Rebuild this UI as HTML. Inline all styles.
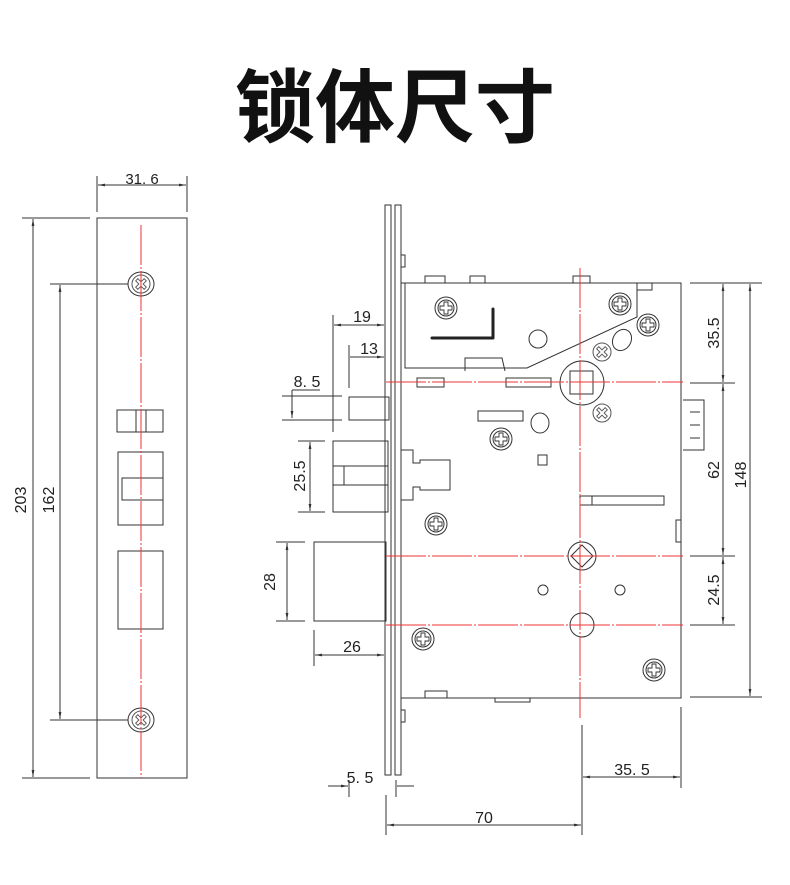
<!DOCTYPE html>
<html><head><meta charset="utf-8"><style>
html,body{margin:0;padding:0;background:#fff;}
svg{display:block;}
text{font-family:"Liberation Sans","Noto Sans CJK SC",sans-serif;fill:#222;}
</style></head><body>
<svg width="790" height="885" viewBox="0 0 790 885" xmlns="http://www.w3.org/2000/svg">
<defs>
<marker id="a" viewBox="0 0 10 10" refX="10" refY="5" markerWidth="7" markerHeight="7" orient="auto-start-reverse"><path d="M0,3 L10,5 L0,7 z" fill="#333"/></marker>
<g id="scr"><circle r="11" fill="#fff" stroke="#333"/><circle r="8" fill="none" stroke="#333"/><path d="M-2,-6h4v4h4v4h-4v4h-4v-4h-4v-4h4z" fill="none" stroke="#333" stroke-width="0.9"/></g>
<g id="ph"><circle r="9" fill="#fff" stroke="#555"/><path d="M-1.5,-6h3v4.5h4.5v3h-4.5v4.5h-3v-4.5h-4.5v-3h4.5z" fill="none" stroke="#555" stroke-width="0.9" transform="rotate(45)"/></g>
</defs>
<text x="395" y="136" font-size="80" font-weight="bold" text-anchor="middle" style="fill:#111">锁体尺寸</text>

<g stroke="#333" stroke-width="1" fill="none">
<rect x="97" y="218" width="90" height="560"/>
<line x1="97" y1="176" x2="97" y2="212"/><line x1="187" y1="176" x2="187" y2="212"/>
<line x1="98" y1="185" x2="186" y2="185" marker-start="url(#a)" marker-end="url(#a)"/>
<line x1="22" y1="218" x2="90" y2="218"/><line x1="22" y1="778" x2="90" y2="778"/>
<line x1="33" y1="219" x2="33" y2="777" marker-start="url(#a)" marker-end="url(#a)"/>
<line x1="50" y1="284" x2="128" y2="284"/><line x1="50" y1="720" x2="128" y2="720"/>
<line x1="60" y1="285" x2="60" y2="719" marker-start="url(#a)" marker-end="url(#a)"/>
<rect x="117" y="410" width="46" height="22"/><line x1="136" y1="410" x2="136" y2="432"/><line x1="146" y1="410" x2="146" y2="432"/>
<rect x="118" y="452" width="45" height="73"/><rect x="122" y="478" width="41" height="22"/>
<rect x="118" y="551" width="45" height="78"/>
</g>
<g stroke="#333" stroke-width="1" fill="#fff">
<ellipse cx="141" cy="284" rx="13" ry="12"/><ellipse cx="141" cy="720" rx="13" ry="12"/>
</g>
<use href="#ph" x="141" y="284" transform="translate(0,0)"/>
<use href="#ph" x="141" y="720"/>
<line x1="141" y1="225" x2="141" y2="778" stroke="#e33" stroke-width="1" stroke-dasharray="40,2,2,2"/>
<text x="142" y="184" font-size="15" text-anchor="middle">31. 6</text>
<text transform="translate(26,500) rotate(-90)" font-size="16" text-anchor="middle">203</text>
<text transform="translate(54,500) rotate(-90)" font-size="16" text-anchor="middle">162</text>

<g stroke="#333" stroke-width="1" fill="none">
<rect x="385" y="205" width="6" height="570"/>
<rect x="395" y="205" width="6" height="570"/>
<path d="M401,283 H681 V698 H401"/>
<path d="M405,283 V368 H527 L637,317 V283"/>
<path d="M637,283 V290 H652 V283"/>
<rect x="417" y="378" width="27" height="9"/><rect x="506" y="378" width="45" height="9"/>
<rect x="478" y="411" width="45" height="10"/><rect x="538" y="455" width="9" height="10"/>
<path d="M465,371 V358 H502 L505,371"/>
<circle cx="582" cy="383" r="22"/><rect x="570" y="371" width="23" height="23"/>
<circle cx="538" cy="339" r="9"/><ellipse cx="540" cy="423" rx="9" ry="10"/>
<ellipse cx="622" cy="340" rx="9" ry="11" transform="rotate(30 622 340)"/>
<circle cx="582" cy="556" r="14"/><path d="M582,545 L593,556 L582,567 L571,556 z"/>
<circle cx="543" cy="590" r="5"/><circle cx="620" cy="590" r="5"/>
<circle cx="582" cy="625" r="12"/>
<rect x="580" y="496" width="84" height="9"/><line x1="592" y1="496" x2="592" y2="505"/>
<path d="M683,400 H704 V450 H683"/><line x1="690" y1="412" x2="700" y2="412"/><line x1="690" y1="425" x2="700" y2="425"/><line x1="690" y1="438" x2="700" y2="438"/>
<rect x="676" y="520" width="5" height="22"/>
<path d="M401,450 H413 V463 H420 V460 H450 V490 H420 V487 H413 V500 H401"/>
<rect x="333" y="441" width="55" height="71"/><rect x="333" y="466" width="55" height="19"/><line x1="344" y1="466" x2="344" y2="485"/>
<rect x="349" y="397" width="40" height="23"/>
<rect x="314" y="542" width="72" height="79"/>
<path d="M425,283 V276 H445 V283"/><path d="M470,283 V276 H485 V283"/><path d="M573,283 V276 H590 V283"/>
<path d="M425,698 V691 H447 V698"/><path d="M495,698 V702 H530 V698"/>
<rect x="401" y="255" width="4" height="12"/><rect x="401" y="710" width="4" height="12"/>
<line x1="333" y1="315" x2="333" y2="432"/><line x1="334" y1="325" x2="384" y2="325" marker-start="url(#a)" marker-end="url(#a)"/>
<line x1="349" y1="345" x2="349" y2="388"/><line x1="350" y1="357" x2="384" y2="357" marker-end="url(#a)"/>
<line x1="282" y1="396" x2="342" y2="396"/><line x1="282" y1="420" x2="342" y2="420"/>
<line x1="292" y1="390" x2="292" y2="418" marker-end="url(#a)"/><line x1="292" y1="390" x2="320" y2="390"/>
<line x1="298" y1="441" x2="325" y2="441"/><line x1="298" y1="512" x2="325" y2="512"/>
<line x1="310" y1="442" x2="310" y2="511" marker-start="url(#a)" marker-end="url(#a)"/>
<line x1="276" y1="542" x2="305" y2="542"/><line x1="276" y1="621" x2="305" y2="621"/>
<line x1="287" y1="543" x2="287" y2="620" marker-start="url(#a)" marker-end="url(#a)"/>
<line x1="314" y1="630" x2="314" y2="666"/><line x1="315" y1="655" x2="384" y2="655" marker-start="url(#a)" marker-end="url(#a)"/>
<line x1="349" y1="780" x2="349" y2="797"/><line x1="396" y1="780" x2="396" y2="797"/>
<line x1="328" y1="786" x2="348" y2="786" marker-end="url(#a)"/><line x1="397" y1="786" x2="414" y2="786"/>
<line x1="386" y1="795" x2="386" y2="835"/><line x1="582" y1="725" x2="582" y2="835"/>
<line x1="387" y1="825" x2="581" y2="825" marker-start="url(#a)" marker-end="url(#a)"/>
<line x1="681" y1="707" x2="681" y2="788"/><line x1="583" y1="777" x2="680" y2="777" marker-start="url(#a)" marker-end="url(#a)"/>
<line x1="690" y1="283" x2="762" y2="283"/><line x1="690" y1="383" x2="735" y2="383"/><line x1="690" y1="556" x2="735" y2="556"/><line x1="690" y1="625" x2="735" y2="625"/><line x1="690" y1="697" x2="762" y2="697"/>
<line x1="723" y1="284" x2="723" y2="382" marker-start="url(#a)" marker-end="url(#a)"/>
<line x1="723" y1="384" x2="723" y2="555" marker-start="url(#a)" marker-end="url(#a)"/>
<line x1="723" y1="557" x2="723" y2="624" marker-start="url(#a)" marker-end="url(#a)"/>
<line x1="750" y1="284" x2="750" y2="696" marker-start="url(#a)" marker-end="url(#a)"/>
</g>
<path d="M432,338 H493 V309" fill="none" stroke="#222" stroke-width="3" stroke-linejoin="round" stroke-linecap="round"/>
<use href="#scr" x="446" y="308"/><use href="#scr" x="620" y="304"/><use href="#scr" x="648" y="325"/>
<use href="#scr" x="501" y="439"/><use href="#scr" x="436" y="524"/><use href="#scr" x="423" y="639"/><use href="#scr" x="654" y="670"/>
<use href="#ph" x="602" y="352"/><use href="#ph" x="602" y="413"/>
<g stroke="#e33" stroke-width="1" stroke-dasharray="40,2,2,2" fill="none">
<line x1="580" y1="268" x2="580" y2="718"/>
<line x1="386" y1="382" x2="683" y2="382"/>
<line x1="386" y1="556" x2="683" y2="556"/>
<line x1="386" y1="625" x2="683" y2="625"/>
</g>
<g font-size="16">
<text x="362" y="322" text-anchor="middle">19</text>
<text x="369" y="354" text-anchor="middle">13</text>
<text x="307" y="387" text-anchor="middle">8. 5</text>
<text transform="translate(305,476) rotate(-90)" text-anchor="middle">25.5</text>
<text transform="translate(275,582) rotate(-90)" text-anchor="middle">28</text>
<text x="352" y="652" text-anchor="middle">26</text>
<text x="360" y="783" text-anchor="middle">5. 5</text>
<text x="484" y="823" text-anchor="middle">70</text>
<text x="632" y="775" text-anchor="middle">35. 5</text>
<text transform="translate(719,333) rotate(-90)" text-anchor="middle">35.5</text>
<text transform="translate(719,470) rotate(-90)" text-anchor="middle">62</text>
<text transform="translate(719,590) rotate(-90)" text-anchor="middle">24.5</text>
<text transform="translate(746,475) rotate(-90)" text-anchor="middle">148</text>
</g>
</svg>
</body></html>
